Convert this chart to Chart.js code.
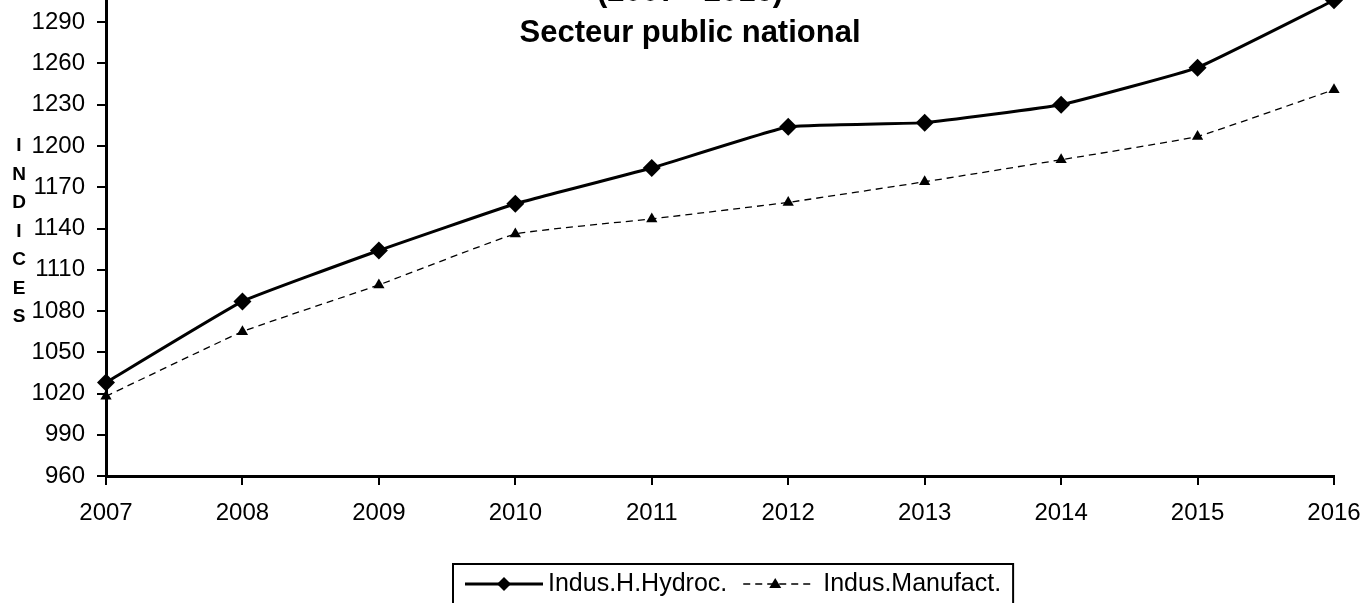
<!DOCTYPE html>
<html>
<head>
<meta charset="utf-8">
<script src="https://cdn.jsdelivr.net/npm/chart.js@4.4.1/dist/chart.umd.min.js"></script>
<style>
    html, body { margin: 0; padding: 0; background: #fff; overflow: hidden; }
    #wrap { position: absolute; left: 0; top: -60px; width: 1364px; height: 663px; }
</style>
</head>
<body>
<div id="wrap"><canvas id="indicesChart"></canvas></div>
<script>
// Données
const years = ['2007', '2008', '2009', '2010', '2011', '2012', '2013', '2014', '2015', '2016'];
const hydrocValues = [1028, 1087, 1124, 1158, 1184, 1214, 1217, 1230, 1257, 1306];
const manufactValues = [1018, 1065, 1099, 1136, 1147, 1159, 1174, 1190, 1207, 1241];
const seriesLabels = ['Indus.H.Hydroc.', 'Indus.Manufact.'];
const titleLines = ['(2007 - 2016)', 'Secteur public national'];
const yAxisTitle = 'INDICES';
const yMin = 960;
const yMax = 1320;
const yStep = 30;

const FONT = 'Arial, "Liberation Sans", sans-serif';
const OFFSET = 60; // le canvas est décalé vers le haut

// Titre, libellé vertical et légende dessinés à la main
const decorPlugin = {
    id: 'decor',
    afterDraw: function (chart) {
        const ctx = chart.ctx;
        ctx.save();
        ctx.fillStyle = '#000';

        // titre
        ctx.font = 'bold 31px ' + FONT;
        ctx.textAlign = 'center';
        ctx.textBaseline = 'alphabetic';
        ctx.fillText(titleLines[0], 690, OFFSET + 1);
        ctx.fillText(titleLines[1], 690, OFFSET + 42);

        // INDICES vertical
        ctx.font = 'bold 19px ' + FONT;
        ctx.textBaseline = 'middle';
        for (let i = 0; i < yAxisTitle.length; i++) {
            ctx.fillText(yAxisTitle[i], 19, OFFSET + 146 + i * 28.5);
        }

        // légende
        const top = OFFSET + 564;
        const rowY = OFFSET + 584;
        ctx.font = '25px ' + FONT;
        ctx.textAlign = 'left';
        let x = 465;
        // série 1
        ctx.strokeStyle = '#000';
        ctx.lineWidth = 3;
        ctx.setLineDash([]);
        ctx.beginPath();
        ctx.moveTo(x, rowY);
        ctx.lineTo(x + 78, rowY);
        ctx.stroke();
        ctx.beginPath();
        ctx.moveTo(x + 39, rowY - 7);
        ctx.lineTo(x + 46, rowY);
        ctx.lineTo(x + 39, rowY + 7);
        ctx.lineTo(x + 32, rowY);
        ctx.closePath();
        ctx.fill();
        x += 83;
        ctx.fillText(seriesLabels[0], x, rowY);
        x += ctx.measureText(seriesLabels[0]).width + 16;
        // série 2
        ctx.lineWidth = 1.3;
        ctx.setLineDash([7, 5]);
        ctx.beginPath();
        ctx.moveTo(x, rowY);
        ctx.lineTo(x + 70, rowY);
        ctx.stroke();
        ctx.setLineDash([]);
        ctx.beginPath();
        ctx.moveTo(x + 32, rowY - 6);
        ctx.lineTo(x + 38, rowY + 4);
        ctx.lineTo(x + 26, rowY + 4);
        ctx.closePath();
        ctx.fill();
        x += 80;
        ctx.fillText(seriesLabels[1], x, rowY);
        x += ctx.measureText(seriesLabels[1]).width + 12;
        // cadre
        ctx.lineWidth = 2;
        ctx.strokeRect(453, top, x - 453, 52);

        ctx.restore();
    }
};

const ctx = document.getElementById('indicesChart').getContext('2d');
const indicesChart = new Chart(ctx, {
    type: 'line',
    data: {
        labels: years,
        datasets: [{
            label: seriesLabels[0],
            data: hydrocValues,
            borderColor: '#000',
            backgroundColor: '#000',
            borderWidth: 3,
            pointStyle: 'rectRot',
            pointRadius: 9,
            pointBackgroundColor: '#000',
            pointBorderColor: '#000',
            pointBorderWidth: 0,
            tension: 0.1
        }, {
            label: seriesLabels[1],
            data: manufactValues,
            borderColor: '#000',
            backgroundColor: '#000',
            borderWidth: 1.3,
            borderDash: [7, 5],
            pointStyle: 'triangle',
            pointRadius: 6.5,
            pointBackgroundColor: '#000',
            pointBorderColor: '#000',
            pointBorderWidth: 0,
            tension: 0.1
        }]
    },
    options: {
        responsive: true,
        maintainAspectRatio: false,
        animation: false,
        layout: {
            padding: { top: 41, right: 0, bottom: 77, left: 0 }
        },
        plugins: {
            legend: { display: false },
            title: { display: false },
            tooltip: { enabled: false }
        },
        scales: {
            x: {
                offset: false,
                grid: {
                    drawOnChartArea: false,
                    drawTicks: true,
                    tickLength: 9,
                    color: '#000',
                    lineWidth: 2
                },
                border: { display: true, color: '#000', width: 3 },
                ticks: {
                    color: '#000',
                    font: { size: 24, family: FONT },
                    padding: 14,
                    maxRotation: 0,
                    autoSkip: false
                },
                afterFit: function (scale) {
                    scale.height = 50;
                    scale.paddingLeft = 0;
                    scale.paddingRight = 30;
                }
            },
            y: {
                min: yMin,
                max: yMax,
                grid: {
                    drawOnChartArea: false,
                    drawTicks: true,
                    tickLength: 9,
                    color: '#000',
                    lineWidth: 2
                },
                border: { display: true, color: '#000', width: 3 },
                ticks: {
                    stepSize: yStep,
                    color: '#000',
                    font: { size: 24, family: FONT },
                    padding: 12,
                    callback: function (value) {
                        return String(value);
                    }
                },
                afterFit: function (scale) { scale.width = 106; }
            }
        }
    },
    plugins: [decorPlugin]
});
</script>
</body>
</html>
